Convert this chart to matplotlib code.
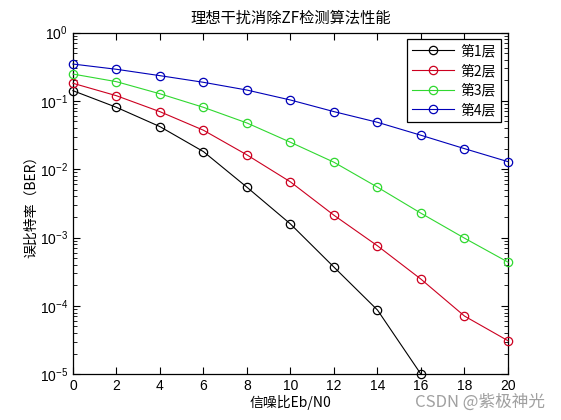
import matplotlib
matplotlib.use("Agg")
import matplotlib.pyplot as plt
from matplotlib.ticker import LogLocator, NullFormatter
import numpy as np

plt.rcParams['font.family'] = ['Noto Sans CJK SC', 'DejaVu Sans']

# Eb/N0 in dB
snr = [0, 2, 4, 6, 8, 10, 12, 14, 16, 18, 20]

# BER per layer
ber_1 = [0.141, 0.0805, 0.042, 0.0181, 0.00545, 0.00158, 3.69e-4, 8.7e-5, 1.0e-5]
ber_2 = [0.181, 0.119, 0.0695, 0.0372, 0.0162, 0.00652, 0.00212, 7.57e-4, 2.46e-4, 7.1e-5, 3.09e-5]
ber_3 = [0.247, 0.191, 0.127, 0.0805, 0.0475, 0.0248, 0.01265, 0.00546, 0.00227, 9.8e-4, 4.37e-4]
ber_4 = [0.346, 0.290, 0.234, 0.187, 0.144, 0.103, 0.0696, 0.0486, 0.0314, 0.0200, 0.0129]

layer_names = ['第1层', '第2层', '第3层', '第4层']
colors = ['#000000', '#cc0020', '#30d830', '#0000b8']

fig = plt.figure(figsize=(5.61, 4.2), dpi=100)
ax = fig.add_axes([0.13, 0.109, 0.7755, 0.8135])

for ys, name, c in zip([ber_1, ber_2, ber_3, ber_4], layer_names, colors):
    ax.semilogy(snr[:len(ys)], ys, '-o', color=c, mfc='none', mec=c,
                ms=6, lw=0.8, mew=0.9, label=name, clip_on=False, zorder=3)

ax.set_xlim(0, 20)
ax.set_ylim(1e-5, 1e0)
ax.set_xticks(np.arange(0, 21, 2))
ax.yaxis.set_major_locator(LogLocator(base=10, numticks=10))
ax.yaxis.set_minor_locator(LogLocator(base=10, subs=np.arange(2, 10), numticks=10))
ax.yaxis.set_minor_formatter(NullFormatter())
ax.tick_params(which='both', direction='in', top=True, right=True, labelsize=10,
               labelfontfamily='Liberation Sans')
ax.tick_params(which='major', length=5, width=0.8)
ax.tick_params(which='minor', length=3, width=0.6)
for s in ax.spines.values():
    s.set_linewidth(0.9)

ax.set_title('理想干扰消除ZF检测算法性能', fontsize=11, pad=7)
ax.set_xlabel('信噪比Eb/N0', fontsize=10, labelpad=1)
ax.set_ylabel('误比特率（BER）', fontsize=10, labelpad=1)

leg = ax.legend(loc='upper right', fontsize=10, numpoints=1, handlelength=3.0,
                fancybox=False, edgecolor='black', framealpha=1,
                borderaxespad=0.5, labelspacing=0.4, handletextpad=0.5,
                borderpad=0.35)
leg.get_frame().set_linewidth(0.9)

fig.text(0.972, 0.042, 'CSDN @紫极神光', ha='right', va='center',
         fontsize=12, color='#a0a0a0')

fig.savefig('out.png', dpi=100)
